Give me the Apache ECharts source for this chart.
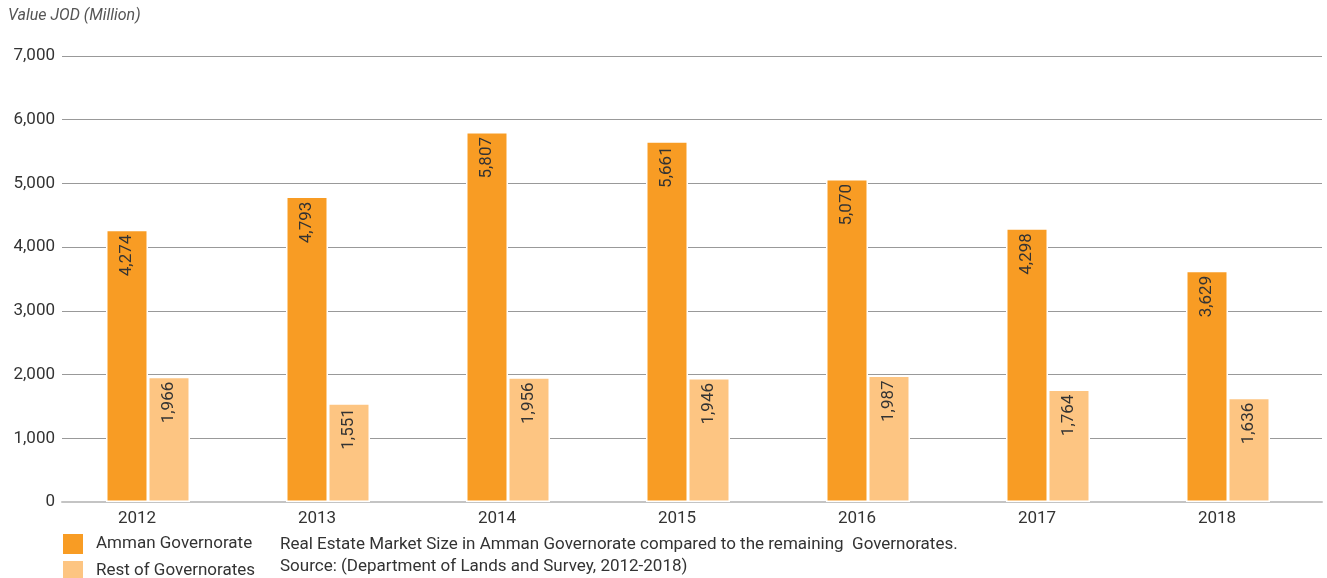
<!DOCTYPE html>
<html>
<head>
<meta charset="utf-8">
<script src="https://cdn.jsdelivr.net/npm/echarts@6/dist/echarts.min.js"></script>
<style>
html,body{margin:0;padding:0;background:#fff;}
#chart{width:1327px;height:578px;}
</style>
</head>
<body>
<div id="chart"></div>
<script>
const years = ['2012', '2013', '2014', '2015', '2016', '2017', '2018'];
const ammanValues = [4274, 4793, 5807, 5661, 5070, 4298, 3629];
const restValues = [1966, 1551, 1956, 1946, 1987, 1764, 1636];
const seriesNames = ['Amman Governorate', 'Rest of Governorates'];
const axisTitle = 'Value JOD (Million)';
const captionLines = [
  'Real Estate Market Size in Amman Governorate compared to the remaining  Governorates.',
  'Source: (Department of Lands and Survey, 2012-2018)'
];

const FONT = 'Roboto';
const fmt = v => v.toLocaleString('en-US');

const chart = echarts.init(document.getElementById('chart'), null, {renderer: 'canvas'});

const labelCfg = {
  show: true,
  position: 'insideTop',
  rotate: 90,
  align: 'right',
  verticalAlign: 'middle',
  distance: 5,
  color: '#333',
  fontFamily: FONT,
  fontSize: 17,
  formatter: p => fmt(p.value)
};

chart.setOption({
  animation: false,
  textStyle: {fontFamily: FONT},
  grid: [
    {left: 62, right: 5, top: 56, bottom: 76},
    {left: 58, right: 9, top: 56, bottom: 76}
  ],
  xAxis: [
    {
      gridIndex: 0, type: 'category', data: years,
      axisLine: {show: true, lineStyle: {color: '#c4c4c4', width: 2}},
      axisTick: {show: false}, axisLabel: {show: false}, splitLine: {show: false}
    },
    {
      gridIndex: 1, type: 'category', data: years,
      axisLine: {show: false}, axisTick: {show: false},
      axisLabel: {color: '#333', fontSize: 17, fontFamily: FONT, margin: 8, padding: [0, 22, 0, 0]}
    }
  ],
  yAxis: [
    {
      gridIndex: 0, type: 'value', min: 0, max: 7000, interval: 1000,
      axisLine: {show: false}, axisTick: {show: false},
      axisLabel: {color: '#333', fontSize: 17, fontFamily: FONT, margin: 7, formatter: v => fmt(v)},
      splitLine: {show: true, lineStyle: {color: '#999', width: 1}}
    },
    {
      gridIndex: 1, type: 'value', min: 0, max: 7000, interval: 1000, show: false,
      splitLine: {show: false}
    }
  ],
  legend: {
    orient: 'vertical', left: 61, top: 532, height: 80,
    itemWidth: 22, itemHeight: 22, itemGap: 3,
    icon: 'rect',
    data: seriesNames,
    padding: 0,
    textStyle: {color: '#333', fontSize: 17, fontFamily: FONT, padding: [0, 0, 0, 7]}
  },
  graphic: [
    {
      type: 'text', left: 8, top: 8,
      style: {text: axisTitle, fill: '#555', font: 'italic 16px Roboto'}
    },
    {
      type: 'text', left: 280, top: 534,
      style: {text: captionLines.join('\n'), fill: '#333', font: '17px Roboto', lineHeight: 22}
    }
  ],
  series: [
    {
      name: seriesNames[0], type: 'bar', xAxisIndex: 1, yAxisIndex: 1,
      data: ammanValues, barWidth: 42, barGap: '0%',
      itemStyle: {color: '#F89C24', borderColor: '#fff', borderWidth: 1.5},
      label: labelCfg
    },
    {
      name: seriesNames[1], type: 'bar', xAxisIndex: 1, yAxisIndex: 1,
      data: restValues, barWidth: 42,
      itemStyle: {color: '#FDC582', borderColor: '#fff', borderWidth: 1.5},
      label: labelCfg
    }
  ]
});
</script>
</body>
</html>
